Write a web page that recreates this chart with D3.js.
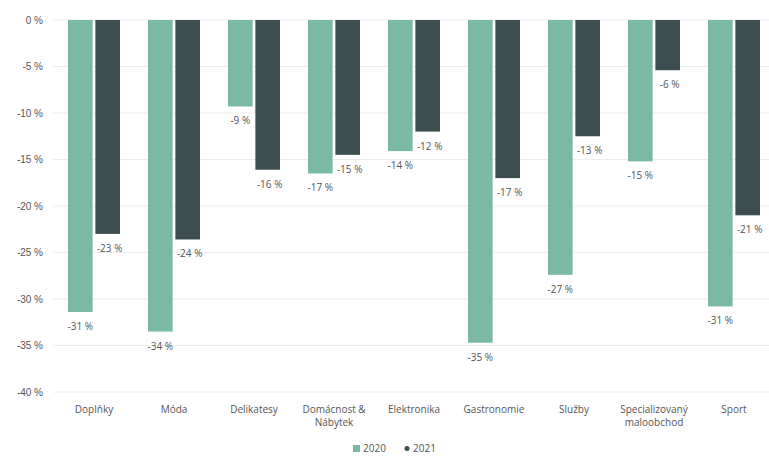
<!DOCTYPE html>
<html>
<head>
<meta charset="utf-8">
<script src="https://cdn.jsdelivr.net/npm/d3@7"></script>
<style>
  html, body { margin: 0; padding: 0; background: #fff; }
  svg { display: block; font-family: "Open Sans", "Noto Sans", sans-serif; }
</style>
</head>
<body>
<svg id="chart" width="769" height="457"></svg>
<script>
const categories = ["Doplňky", "Móda", "Delikatesy", "Domácnost &\nNábytek", "Elektronika", "Gastronomie", "Služby", "Specializovaný\nmaloobchod", "Sport"];
const seriesNames = ["2020", "2021"];
const values2020 = [-31.4, -33.5, -9.3, -16.5, -14.1, -34.7, -27.4, -15.2, -30.8];
const values2021 = [-23.0, -23.6, -16.1, -14.5, -12.0, -17.0, -12.5, -5.4, -21.0];
const labels2020 = ["-31 %", "-34 %", "-9 %", "-17 %", "-14 %", "-35 %", "-27 %", "-15 %", "-31 %"];
const labels2021 = ["-23 %", "-24 %", "-16 %", "-15 %", "-12 %", "-17 %", "-13 %", "-6 %", "-21 %"];
const yTicks = [0, -5, -10, -15, -20, -25, -30, -35, -40];
const colors = ["#79b9a6", "#3c4e4f"];

const svg = d3.select("#chart");
const x0 = d3.scaleBand().domain(d3.range(categories.length)).range([54, 774]).paddingInner(0.35).paddingOuter(0.175);
const x1 = d3.scaleBand().domain(seriesNames).range([0, x0.bandwidth()]).paddingInner(0.1);
const y = d3.scaleLinear().domain([-40, 0]).range([392, 20]);

// gridlines
svg.append("g").selectAll("line").data(yTicks).join("line")
  .attr("x1", 53).attr("x2", 769)
  .attr("y1", d => y(d)).attr("y2", d => y(d))
  .attr("stroke", "#ececec").attr("stroke-width", 1);

// y axis
const yAxis = d3.axisLeft(y).tickValues(yTicks).tickSize(0).tickPadding(0).tickFormat(d => d + " %");
const ga = svg.append("g").attr("transform", "translate(43,0)").call(yAxis);
ga.select(".domain").remove();
ga.selectAll("text").attr("fill", "#555").style("font-size", "10px");

const data = [values2020, values2021];
const labels = [labels2020, labels2021];

seriesNames.forEach((s, si) => {
  const g = svg.append("g");
  g.selectAll("rect").data(data[si]).join("rect")
    .attr("x", (d, i) => x0(i) + x1(s))
    .attr("width", x1.bandwidth())
    .attr("y", y(0))
    .attr("height", d => y(d) - y(0))
    .attr("fill", colors[si]);
  g.selectAll("text").data(data[si]).join("text")
    .attr("x", (d, i) => x0(i) + x1(s) + x1.bandwidth() / 2 + (si === 1 ? 2 : 0))
    .attr("y", d => y(d) + 18)
    .attr("text-anchor", "middle")
    .attr("fill", "#555")
    .style("font-size", "10px")
    .text((d, i) => labels[si][i]);
});

// category labels
const cg = svg.append("g");
categories.forEach((c, i) => {
  const t = cg.append("text")
    .attr("x", x0(i) + x0.bandwidth() / 2)
    .attr("y", 413)
    .attr("text-anchor", "middle")
    .attr("fill", "#555")
    .style("font-size", "10px");
  c.split("\n").forEach((line, li) => {
    t.append("tspan").attr("x", x0(i) + x0.bandwidth() / 2).attr("dy", li === 0 ? 0 : 13).text(line);
  });
});

// legend
const lg = svg.append("g");
lg.append("rect").attr("x", 353).attr("y", 445).attr("width", 7).attr("height", 7).attr("fill", colors[0]);
lg.append("text").attr("x", 363).attr("y", 452).attr("fill", "#555").style("font-size", "10px").text(seriesNames[0]);
lg.append("circle").attr("cx", 407).attr("cy", 448.5).attr("r", 2.5).attr("fill", colors[1]);
lg.append("text").attr("x", 413).attr("y", 452).attr("fill", "#555").style("font-size", "10px").text(seriesNames[1]);
</script>
</body>
</html>
